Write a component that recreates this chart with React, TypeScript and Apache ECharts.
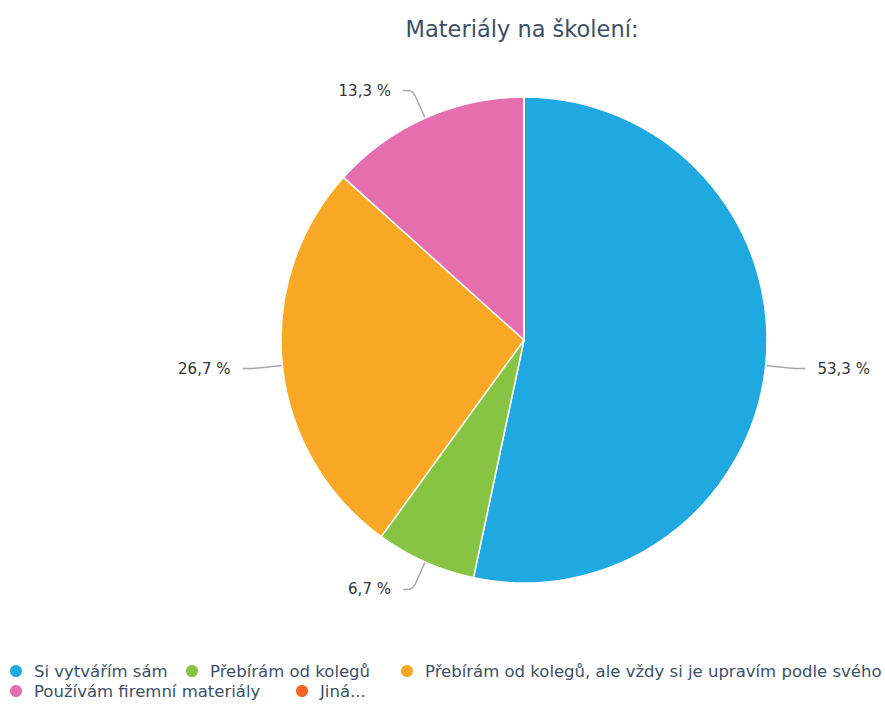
import React, { useEffect, useRef } from "react";
import * as echarts from "echarts";

const titleText = "Materiály na školení:";
const categories = [
  "Si vytvářím sám",
  "Přebírám od kolegů",
  "Přebírám od kolegů, ale vždy si je upravím podle svého",
  "Používám firemní materiály",
  "Jiná...",
];
const values = [8, 1, 4, 2, 0];
const colors = ["#20a8e0", "#88c443", "#f9a825", "#e56eae", "#f26522"];

// legend item box positions (left, top) for each category
const legendSlots: [number, number][] = [
  [8, 661],
  [184, 661],
  [399, 661],
  [8, 681],
  [294, 681],
];

export default function App() {
  const ref = useRef<HTMLDivElement>(null);
  useEffect(() => {
    if (!ref.current) return;
    const chart = echarts.init(ref.current, null, { renderer: "svg" });
    const font = "DejaVu Sans";
    const legendBase = {
      orient: "horizontal",
      icon: "circle",
      itemWidth: 26,
      itemHeight: 14,
      itemGap: 16,
      padding: 0,
      textStyle: { fontFamily: font, fontSize: 16.5, color: "#3d4f66", lineHeight: 20 },
    };
    chart.setOption({
      animation: false,
      color: colors,
      title: {
        text: titleText,
        left: 522,
        textAlign: "center",
        top: 17,
        padding: 0,
        textStyle: { fontFamily: font, fontSize: 22.5, fontWeight: "normal", color: "#3d4f66" },
      },
      legend: categories.map((c, i) => ({
        ...legendBase,
        left: legendSlots[i][0],
        top: legendSlots[i][1],
        data: [c],
      })),
      series: [
        {
          type: "pie",
          center: [524, 340],
          radius: 243,
          startAngle: 90,
          clockwise: true,
          itemStyle: { borderColor: "#ffffff", borderWidth: 1.5 },
          label: {
            fontFamily: font,
            fontSize: 15,
            color: "#333333",
            distanceToLabelLine: 12,
            formatter: (p: any) => p.percent.toFixed(1).replace(".", ",") + " %",
          },
          labelLine: {
            length: 30,
            length2: 10,
            smooth: 0.3,
            lineStyle: { color: "#a8a8a8", width: 1.5 },
          },
          data: categories.map((c, i) =>
            values[i] === 0
              ? { name: c, value: values[i], label: { show: false }, labelLine: { show: false } }
              : { name: c, value: values[i] }
          ),
        },
      ],
    });
    return () => chart.dispose();
  }, []);
  return (
    <div
      ref={ref}
      style={{ position: "absolute", left: 0, top: 0, width: 885, height: 706 }}
    />
  );
}
